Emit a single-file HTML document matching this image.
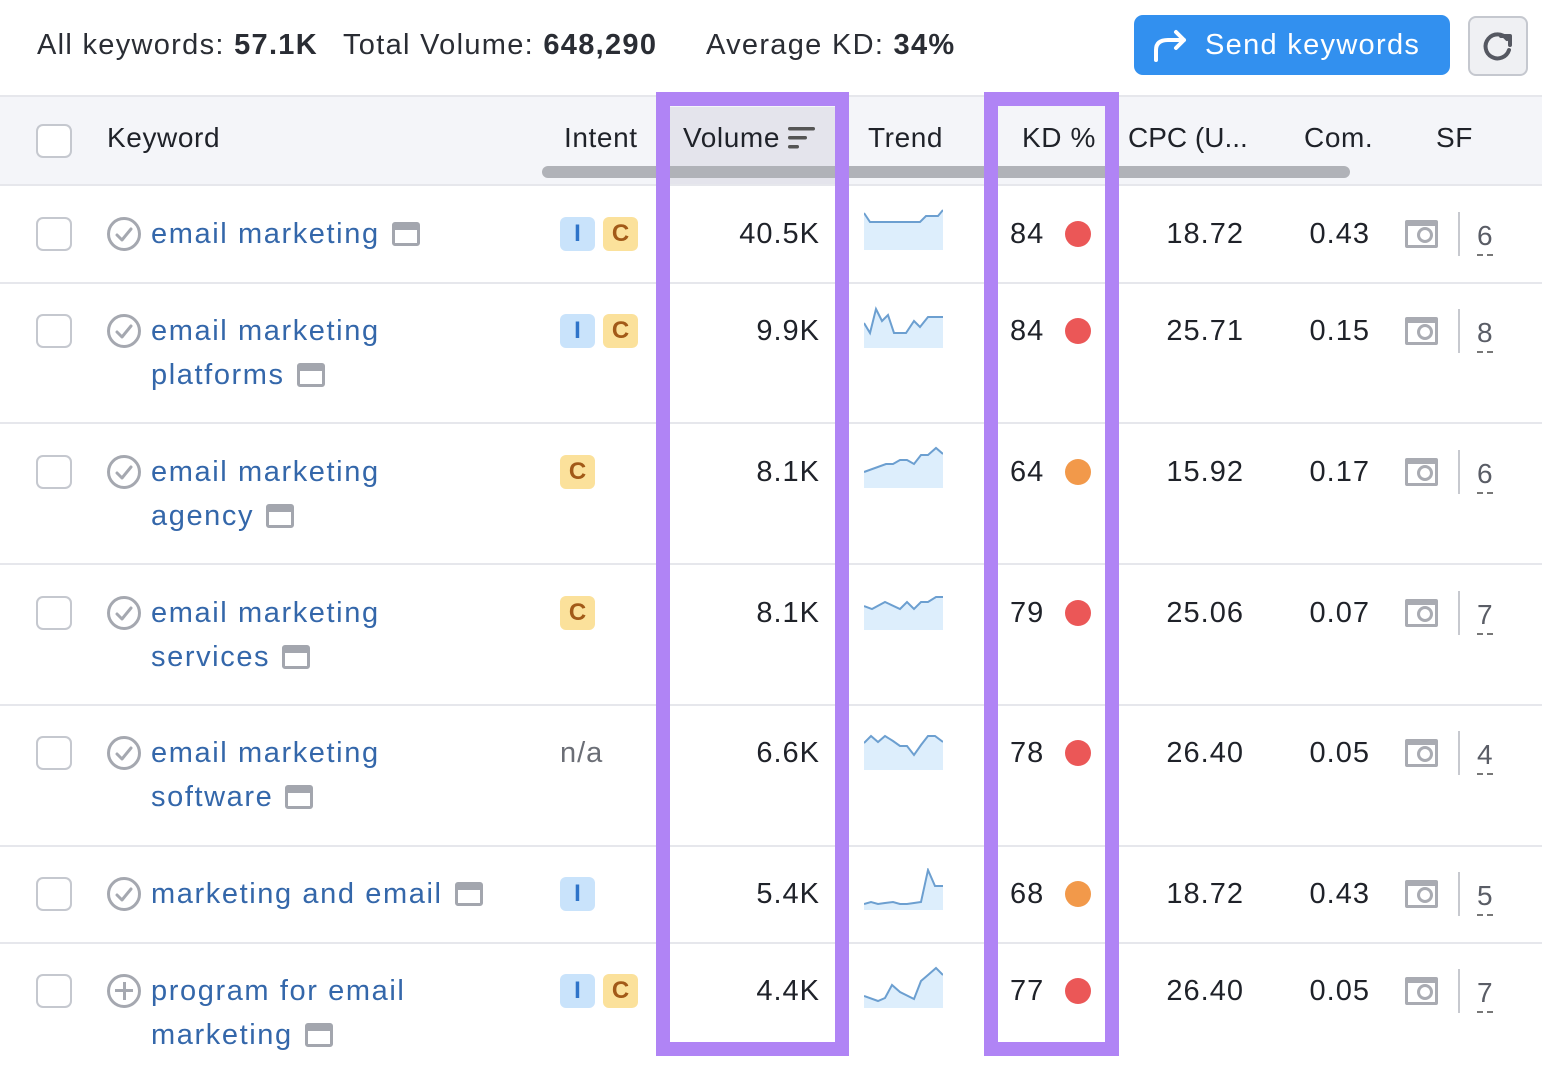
<!DOCTYPE html>
<html><head><meta charset="utf-8"><style>
*{margin:0;padding:0;box-sizing:border-box}
body{width:1542px;height:1078px;background:#fff;position:relative;overflow:hidden;font-family:"Liberation Sans",sans-serif;color:#1f2229}
.a{position:absolute}
.t{position:absolute;font-size:29px;line-height:40px;white-space:nowrap;letter-spacing:1px}
.h{letter-spacing:0.6px}
.r{text-align:right}
.cb{position:absolute;left:36px;width:36px;height:34px;border:2px solid #c5c8cf;border-radius:7px;background:#fff}
.sep{position:absolute;left:0;width:1542px;height:2px;background:#e6e7ec}
.kw{color:#3467aa;letter-spacing:1.6px}
.pg{display:inline-block;width:28px;height:24px;border:3px solid #a3a6ae;border-top-width:8px;border-radius:3px;vertical-align:-3px;margin-left:12px}
.chk{position:absolute;left:107px;width:34px;height:34px;border:3px solid #a5a8b0;border-radius:50%}
.bI,.bC{position:absolute;width:35px;height:34px;border-radius:6px;font-size:24px;font-weight:bold;line-height:34px;text-align:center}
.bI{left:560px;background:#c9e3fb;color:#2f74c9}
.bC{background:#fbe19b;color:#a25a18}
.dot{position:absolute;left:1065px;width:26px;height:26px;border-radius:50%}
.red{background:#eb5757}.or{background:#f2994a}
.sfi{position:absolute;left:1405px;width:33px;height:28px;border:3px solid #a9abb2;border-top-width:6px;border-radius:2px}
.sfi:after{content:"";position:absolute;right:2px;bottom:2px;width:10px;height:10px;border:3px solid #a9abb2;border-radius:50%}
.dv{position:absolute;left:1458px;width:2px;height:44px;background:#c7c9cf}
.sn{position:absolute;left:1477px;font-size:28px;line-height:36px;color:#5a5d66;border-bottom:2px dashed #777}
.box{position:absolute;top:92px;height:964px;border:14px solid #b084f5}
</style></head><body>
<div class="t" style="left:37px;top:25px;color:#2a2d34;letter-spacing:1.3px">All keywords: <b>57.1K</b></div>
<div class="t" style="left:343px;top:25px;color:#2a2d34;letter-spacing:1.3px">Total Volume: <b>648,290</b></div>
<div class="t" style="left:706px;top:25px;color:#2a2d34;letter-spacing:1.3px">Average KD: <b>34%</b></div>
<div class="a" style="left:1134px;top:15px;width:316px;height:60px;background:#3290ef;border-radius:9px"></div>
<svg class="a" style="left:1152px;top:28px" width="38" height="34" viewBox="0 0 38 34"><path d="M4 32 V22 Q4 12 16 12 H32 M24 4 L32 12 L24 20" fill="none" stroke="#fff" stroke-width="4" stroke-linecap="round" stroke-linejoin="round"/></svg>
<div class="t" style="left:1205px;top:25px;color:#fff;letter-spacing:1.3px">Send keywords</div>
<div class="a" style="left:1468px;top:16px;width:60px;height:60px;background:#eff0f3;border:2px solid #c5c8cf;border-radius:8px"></div>
<svg class="a" style="left:1480px;top:28px" width="36" height="36" viewBox="0 0 36 36"><path d="M27 11 A12 12 0 1 0 29 22" fill="none" stroke="#555861" stroke-width="4" stroke-linecap="round"/><path d="M21 8 H30 V17" fill="none" stroke="#555861" stroke-width="4" stroke-linejoin="round" stroke-linecap="round"/></svg>

<div class="a" style="left:0;top:95px;width:1542px;height:90px;background:#f4f5f9;border-top:2px solid #e6e7ec"></div>
<div class="a" style="left:670px;top:107px;width:165px;height:78px;background:#e4e4ec"></div>
<div class="a" style="left:542px;top:166px;width:808px;height:12px;background:#b0b2b8;border-radius:6px"></div>
<div class="cb" style="top:124px"></div>
<div class="t h" style="left:107px;top:118px;font-size:28px">Keyword</div>
<div class="t h" style="left:564px;top:118px;font-size:28px">Intent</div>
<div class="t h" style="left:683px;top:118px;font-size:28px">Volume</div>
<svg class="a" style="left:787px;top:126px" width="30" height="24"><rect x="1" y="1" width="27" height="3.5" rx="1.7" fill="#555"/><rect x="1" y="10" width="19" height="3.5" rx="1.7" fill="#555"/><rect x="1" y="19" width="11" height="3.5" rx="1.7" fill="#555"/></svg>
<div class="t h" style="left:868px;top:118px;font-size:28px">Trend</div>
<div class="t h" style="left:1022px;top:118px;font-size:28px">KD %</div>
<div class="t h" style="left:1128px;top:118px;font-size:28px;letter-spacing:0">CPC (U...</div>
<div class="t h" style="left:1304px;top:118px;font-size:28px">Com.</div>
<div class="t h" style="left:1436px;top:118px;font-size:28px">SF</div>
<div class="sep" style="top:184px"></div>

<div class="sep" style="top:282px"></div>
<div class="sep" style="top:422px"></div>
<div class="sep" style="top:563px"></div>
<div class="sep" style="top:704px"></div>
<div class="sep" style="top:845px"></div>
<div class="sep" style="top:942px"></div>

<!-- Row 1 -->
<div class="cb" style="top:217px"></div>
<div class="chk" style="top:217px"></div>
<div class="t kw" style="left:151px;top:214px">email marketing<span class="pg"></span></div>
<div class="bI" style="top:217px">I</div><div class="bC" style="left:603px;top:217px">C</div>
<div class="t r" style="left:680px;width:140px;top:214px">40.5K</div>
<svg class="a" style="left:864px;top:208px" width="79" height="42"><polygon points="0,5 6,14 56,14 62,8 74,8 79,2 79,42 0,42" fill="#ddeefc"/><polyline points="0,5 6,14 56,14 62,8 74,8 79,2" fill="none" stroke="#6c9fd0" stroke-width="2"/></svg>
<div class="t" style="left:1010px;top:214px">84</div><div class="dot red" style="top:221px"></div>
<div class="t r" style="left:1100px;width:144px;top:214px">18.72</div>
<div class="t r" style="left:1260px;width:110px;top:214px">0.43</div>
<div class="sfi" style="top:220px"></div><div class="dv" style="top:212px"></div><div class="sn" style="top:218px">6</div>

<!-- Row 2 -->
<div class="cb" style="top:314px"></div>
<div class="chk" style="top:314px"></div>
<div class="t kw" style="left:151px;top:311px">email marketing</div>
<div class="t kw" style="left:151px;top:355px">platforms<span class="pg"></span></div>
<div class="bI" style="top:314px">I</div><div class="bC" style="left:603px;top:314px">C</div>
<div class="t r" style="left:680px;width:140px;top:311px">9.9K</div>
<svg class="a" style="left:864px;top:305px" width="79" height="43"><polygon points="0,18 6,28 12,4 18,16 24,10 30,28 42,28 50,16 56,22 64,12 79,12 79,43 0,43" fill="#ddeefc"/><polyline points="0,18 6,28 12,4 18,16 24,10 30,28 42,28 50,16 56,22 64,12 79,12" fill="none" stroke="#6c9fd0" stroke-width="2"/></svg>
<div class="t" style="left:1010px;top:311px">84</div><div class="dot red" style="top:318px"></div>
<div class="t r" style="left:1100px;width:144px;top:311px">25.71</div>
<div class="t r" style="left:1260px;width:110px;top:311px">0.15</div>
<div class="sfi" style="top:317px"></div><div class="dv" style="top:309px"></div><div class="sn" style="top:315px">8</div>

<!-- Row 3 -->
<div class="cb" style="top:455px"></div>
<div class="chk" style="top:455px"></div>
<div class="t kw" style="left:151px;top:452px">email marketing</div>
<div class="t kw" style="left:151px;top:496px">agency<span class="pg"></span></div>
<div class="bC" style="left:560px;top:455px">C</div>
<div class="t r" style="left:680px;width:140px;top:452px">8.1K</div>
<svg class="a" style="left:864px;top:446px" width="79" height="42"><polygon points="0,26 22,18 29,18 36,14 43,14 50,18 57,9 64,9 72,2 79,8 79,42 0,42" fill="#ddeefc"/><polyline points="0,26 22,18 29,18 36,14 43,14 50,18 57,9 64,9 72,2 79,8" fill="none" stroke="#6c9fd0" stroke-width="2"/></svg>
<div class="t" style="left:1010px;top:452px">64</div><div class="dot or" style="top:459px"></div>
<div class="t r" style="left:1100px;width:144px;top:452px">15.92</div>
<div class="t r" style="left:1260px;width:110px;top:452px">0.17</div>
<div class="sfi" style="top:458px"></div><div class="dv" style="top:450px"></div><div class="sn" style="top:456px">6</div>

<!-- Row 4 -->
<div class="cb" style="top:596px"></div>
<div class="chk" style="top:596px"></div>
<div class="t kw" style="left:151px;top:593px">email marketing</div>
<div class="t kw" style="left:151px;top:637px">services<span class="pg"></span></div>
<div class="bC" style="left:560px;top:596px">C</div>
<div class="t r" style="left:680px;width:140px;top:593px">8.1K</div>
<svg class="a" style="left:864px;top:596px" width="79" height="34"><polygon points="0,10 8,13 21,6 36,13 43,6 50,13 57,6 64,6 72,1 79,1 79,34 0,34" fill="#ddeefc"/><polyline points="0,10 8,13 21,6 36,13 43,6 50,13 57,6 64,6 72,1 79,1" fill="none" stroke="#6c9fd0" stroke-width="2"/></svg>
<div class="t" style="left:1010px;top:593px">79</div><div class="dot red" style="top:600px"></div>
<div class="t r" style="left:1100px;width:144px;top:593px">25.06</div>
<div class="t r" style="left:1260px;width:110px;top:593px">0.07</div>
<div class="sfi" style="top:599px"></div><div class="dv" style="top:591px"></div><div class="sn" style="top:597px">7</div>

<!-- Row 5 -->
<div class="cb" style="top:736px"></div>
<div class="chk" style="top:736px"></div>
<div class="t kw" style="left:151px;top:733px">email marketing</div>
<div class="t kw" style="left:151px;top:777px">software<span class="pg"></span></div>
<div class="t" style="left:560px;top:733px;color:#6b6e76">n/a</div>
<div class="t r" style="left:680px;width:140px;top:733px">6.6K</div>
<svg class="a" style="left:864px;top:733px" width="79" height="37"><polygon points="0,10 7,3 14,9 21,3 29,8 36,13 43,13 50,22 57,12 64,3 71,3 79,9 79,37 0,37" fill="#ddeefc"/><polyline points="0,10 7,3 14,9 21,3 29,8 36,13 43,13 50,22 57,12 64,3 71,3 79,9" fill="none" stroke="#6c9fd0" stroke-width="2"/></svg>
<div class="t" style="left:1010px;top:733px">78</div><div class="dot red" style="top:740px"></div>
<div class="t r" style="left:1100px;width:144px;top:733px">26.40</div>
<div class="t r" style="left:1260px;width:110px;top:733px">0.05</div>
<div class="sfi" style="top:739px"></div><div class="dv" style="top:731px"></div><div class="sn" style="top:737px">4</div>

<!-- Row 6 -->
<div class="cb" style="top:877px"></div>
<div class="chk" style="top:877px"></div>
<div class="t kw" style="left:151px;top:874px">marketing and email<span class="pg"></span></div>
<div class="bI" style="top:877px">I</div>
<div class="t r" style="left:680px;width:140px;top:874px">5.4K</div>
<svg class="a" style="left:864px;top:868px" width="79" height="42"><polygon points="0,36 7,34 14,36 21,35 29,34 36,36 43,36 50,35 57,34 64,2 71,18 79,18 79,42 0,42" fill="#ddeefc"/><polyline points="0,36 7,34 14,36 21,35 29,34 36,36 43,36 50,35 57,34 64,2 71,18 79,18" fill="none" stroke="#6c9fd0" stroke-width="2"/></svg>
<div class="t" style="left:1010px;top:874px">68</div><div class="dot or" style="top:881px"></div>
<div class="t r" style="left:1100px;width:144px;top:874px">18.72</div>
<div class="t r" style="left:1260px;width:110px;top:874px">0.43</div>
<div class="sfi" style="top:880px"></div><div class="dv" style="top:872px"></div><div class="sn" style="top:878px">5</div>

<!-- Row 7 -->
<div class="cb" style="top:974px"></div>
<div class="a" style="left:107px;top:974px;width:34px;height:34px;border:3px solid #a5a8b0;border-radius:50%"></div>
<div class="a" style="left:115px;top:989px;width:18px;height:3px;background:#a5a8b0"></div>
<div class="a" style="left:122.5px;top:982px;width:3px;height:18px;background:#a5a8b0"></div>
<div class="t kw" style="left:151px;top:971px">program for email</div>
<div class="t kw" style="left:151px;top:1015px">marketing<span class="pg"></span></div>
<div class="bI" style="top:974px">I</div><div class="bC" style="left:603px;top:974px">C</div>
<div class="t r" style="left:680px;width:140px;top:971px">4.4K</div>
<svg class="a" style="left:864px;top:966px" width="79" height="42"><polygon points="0,30 14,35 21,32 28,19 36,26 50,33 57,15 64,9 72,2 79,9 79,42 0,42" fill="#ddeefc"/><polyline points="0,30 14,35 21,32 28,19 36,26 50,33 57,15 64,9 72,2 79,9" fill="none" stroke="#6c9fd0" stroke-width="2"/></svg>
<div class="t" style="left:1010px;top:971px">77</div><div class="dot red" style="top:978px"></div>
<div class="t r" style="left:1100px;width:144px;top:971px">26.40</div>
<div class="t r" style="left:1260px;width:110px;top:971px">0.05</div>
<div class="sfi" style="top:977px"></div><div class="dv" style="top:969px"></div><div class="sn" style="top:975px">7</div>

<svg class="a" style="left:107px;top:0" width="34" height="1078">
<g fill="none" stroke="#a5a8b0" stroke-width="3" stroke-linecap="round" stroke-linejoin="round">
<polyline points="10,235 15,240 24,229"/>
<polyline points="10,332 15,337 24,326"/>
<polyline points="10,473 15,478 24,467"/>
<polyline points="10,614 15,619 24,608"/>
<polyline points="10,754 15,759 24,748"/>
<polyline points="10,895 15,900 24,889"/>
</g></svg>

<div class="box" style="left:656px;width:193px"></div>
<div class="box" style="left:984px;width:135px"></div>
</body></html>
